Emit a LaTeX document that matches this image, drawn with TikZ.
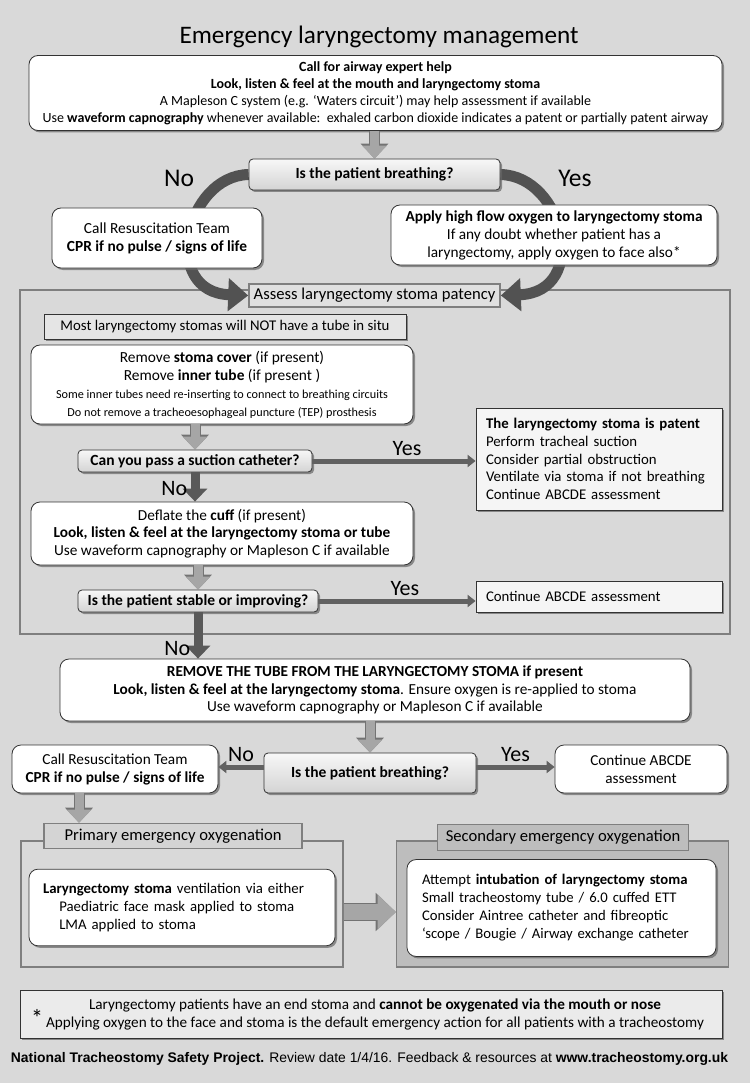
\documentclass[tikz,border=0pt]{standalone}
\usepackage{fontspec}
\setmainfont{Carlito}
\newfontfamily\footfont{Liberation Sans}
\usetikzlibrary{arrows.meta,shadows,positioning}
\definecolor{pagegrey}{HTML}{D9D9D9}
\definecolor{querygrey}{HTML}{EAEAEA}
\definecolor{secgrey}{HTML}{BDBDBD}
\definecolor{edgegrey}{HTML}{7F7F7F}
\pgfdeclarelayer{back}
\pgfdeclarelayer{mid}
\pgfsetlayers{back,mid,main}
\tikzstyle{boxshadow} = [drop shadow={shadow xshift=2pt, shadow yshift=-2pt, fill=black!60, opacity=0.7}]
\tikzstyle{action} = [draw=black!80, fill=white, rounded corners=9pt, align=center, line width=0.8pt, boxshadow]
\tikzstyle{query} = [draw=black!80, top color=black!3, bottom color=black!17, rounded corners=4pt, align=center, line width=0.8pt, font=\fontsize{15.5}{18}\selectfont\bfseries, boxshadow]
\tikzstyle{outcome} = [draw=black!80, fill=black!4, align=left, line width=0.8pt, boxshadow]
\tikzstyle{panel} = [draw=edgegrey, line width=1.6pt]
\tikzstyle{paneltab} = [draw=edgegrey, line width=1.6pt, font=\fontsize{16.6}{18}\selectfont]
\tikzstyle{greyarrow} = [draw=black!35, line width=9pt, -{Triangle[width=24pt,length=13pt]},
  preaction={draw=black!55, line width=11pt, -{Triangle[width=27pt,length=15pt]}}]
\tikzstyle{darkarrow} = [draw=black!65, line width=9pt, -{Triangle[width=24pt,length=13pt]}]
\tikzstyle{sidearrow} = [draw=black!62, line width=5pt, -{Triangle[width=12pt,length=8pt]}]
\tikzstyle{curvearrow} = [draw=black!68, line width=11pt, -{Triangle[width=32pt,length=20pt]}]
\tikzstyle{biglabel} = [font=\fontsize{25.5}{26}\selectfont]
\tikzstyle{midlabel} = [font=\fontsize{22}{22}\selectfont]

\begin{document}
\begin{tikzpicture}[x=1pt, y=-1pt, font=\fontsize{15}{17.5}\selectfont]
    \useasboundingbox (0,0) rectangle (750,1083);
    \begin{pgfonlayer}{back}
      \fill[pagegrey] (0,0) rectangle (750,1083);
      \node [panel, minimum width=710, minimum height=344] (patency) at (375,462) {};
      \node [panel, fill=pagegrey, minimum width=322, minimum height=126] (prim) at (182,904) {};
      \node [panel, fill=secgrey, minimum width=332, minimum height=126] (sec) at (562.5,904) {};
    \end{pgfonlayer}

    \node [font=\fontsize{25.2}{27}\selectfont] (title) at (379,37) {Emergency laryngectomy management};
    \node [action, minimum width=693, minimum height=75, font=\fontsize{14}{17}\selectfont] (top) at (375.5,93)
      {\textbf{Call for airway expert help}\\
       \textbf{Look, listen \& feel at the mouth and laryngectomy stoma}\\
       A Mapleson C system (e.g. ‘Waters circuit’) may help assessment if available\\
       Use \textbf{waveform capnography} whenever available:\ \ exhaled carbon dioxide indicates a patent or partially patent airway};
    \node [query, minimum width=251, minimum height=31] (q1) at (374.5,174.5) {Is the patient breathing?};
    \node [biglabel] (nolabel) at (179,178) {No};
    \node [biglabel] (yeslabel) at (575,178) {Yes};
    \node [action, minimum width=210, minimum height=60, font=\fontsize{15.4}{18}\selectfont] (resus1) at (157,238)
      {Call Resuscitation Team\\\textbf{CPR if no pulse / signs of life}};
    \node [action, minimum width=326, minimum height=60, font=\fontsize{15.3}{18}\selectfont] (oxy) at (554,235)
      {\textbf{Apply high flow oxygen to laryngectomy stoma}\\If any doubt whether patient has a\\laryngectomy, apply oxygen to face also*};
    \node [paneltab, fill=black!12, minimum width=251, minimum height=23] (assess) at (374.5,295.5)
      {Assess laryngectomy stoma patency};

    % stoma patency
    \node [outcome, fill=black!10, minimum width=362, minimum height=25, align=center, font=\fontsize{14.8}{17}\selectfont] (most) at (225,326.5)
      {Most laryngectomy stomas will NOT have a tube in situ};
    \node [action, minimum width=382, minimum height=79, font=\fontsize{15.4}{18}\selectfont] (rmv) at (222,384.5)
      {Remove \textbf{stoma cover} (if present)\\
       Remove \textbf{inner tube} (if present )\\
       {\fontsize{12.2}{16}\selectfont Some inner tubes need re-inserting to connect to breathing circuits}\\
       {\fontsize{12.2}{16}\selectfont Do not remove a tracheoesophageal puncture (TEP) prosthesis}};
    \node [query, minimum width=234, minimum height=22] (can) at (195,461) {Can you pass a suction catheter?};
    \node [outcome, minimum width=246, minimum height=102, text width=226, font=\fontsize{14.8}{17.7}\selectfont] (patent) at (599,459)
      {\textbf{The laryngectomy stoma is patent}\\
       Perform tracheal suction\\
       Consider partial obstruction\\
       Ventilate via stoma if not breathing\\
       Continue ABCDE assessment};
    \node [action, minimum width=382, minimum height=63, font=\fontsize{15.3}{17.5}\selectfont] (deflate) at (222,533.5)
      {Deflate the \textbf{cuff} (if present)\\
       \textbf{Look, listen \& feel at the laryngectomy stoma or tube}\\
       Use waveform capnography or Mapleson C if available};
    \node [query, minimum width=240, minimum height=22] (stable) at (198,601) {Is the patient stable or improving?};
    \node [outcome, minimum width=246, minimum height=31, text width=226, font=\fontsize{14.8}{17}\selectfont] (cont1) at (599,596.5)
      {Continue ABCDE assessment};

    \draw [greyarrow] (top.south -| q1.north) -- (q1.north);
    \draw [greyarrow] (can.north |- rmv.south) -- (can.north);
    \draw [sidearrow] (can.east) -- node[midlabel, above, pos=0.58] {Yes} (can.east -| patent.west);
    \draw [darkarrow] (can.south) -- node[midlabel, left, pos=0.55] {No} (can.south |- deflate.north);
    \draw [greyarrow] (stable.north |- deflate.south) -- (stable.north);
    \draw [sidearrow] (stable.east) -- node[midlabel, above, pos=0.55] {Yes} (stable.east -| cont1.west);

    % tube removal
    \node [action, minimum width=630, minimum height=62, font=\fontsize{15.3}{17.5}\selectfont] (remove) at (375,690)
      {\textbf{REMOVE THE TUBE FROM THE LARYNGECTOMY STOMA if present}\\
       \textbf{Look, listen \& feel at the laryngectomy stoma}. Ensure oxygen is re-applied to stoma\\
       Use waveform capnography or Mapleson C if available};
    \draw [darkarrow] (stable.south) -- node[midlabel, left, pos=0.78] {No} (stable.south |- remove.north);
    \node [query, minimum width=212, minimum height=40] (q3) at (370,773) {Is the patient breathing?};
    \node [action, minimum width=206, minimum height=48, font=\fontsize{15.3}{18}\selectfont] (resus2) at (115,769)
      {Call Resuscitation Team\\\textbf{CPR if no pulse / signs of life}};
    \node [action, minimum width=172, minimum height=48, font=\fontsize{15.2}{18}\selectfont] (cont2) at (641,769)
      {Continue ABCDE\\assessment};
    \draw [greyarrow] (q3.north |- remove.south) -- (q3.north);
    \draw [sidearrow] ([yshift=6pt]q3.west) -- node[midlabel, above] {No} ([yshift=6pt]q3.west -| resus2.east);
    \draw [sidearrow] ([yshift=6pt]q3.east) -- node[midlabel, above] {Yes} ([yshift=6pt]q3.east -| cont2.west);

    % oxygenation
    \node [paneltab, fill=black!17, minimum width=258, minimum height=25] (primtab) at (173,836) {Primary emergency oxygenation};
    \node [paneltab, fill=secgrey, minimum width=251, minimum height=26] (sectab) at (563,837.5) {Secondary emergency oxygenation};
    \node [action, minimum width=306, minimum height=71, text width=278, align=left, inner sep=14pt, font=\fontsize{14.8}{18}\selectfont] (primbox) at (182,907.5)
      {\textbf{Laryngectomy stoma} ventilation via either\\
       \hspace*{1.1em}Paediatric face mask applied to stoma\\
       \hspace*{1.1em}LMA applied to stoma};
    \node [action, minimum width=309, minimum height=90, text width=279, align=left, inner sep=15pt, font=\fontsize{14.7}{18}\selectfont] (secbox) at (561.5,908)
      {Attempt \textbf{intubation of laryngectomy stoma}\\
       Small tracheostomy tube / 6.0 cuffed ETT\\
       Consider Aintree catheter and fibreoptic\\
       ‘scope / Bougie / Airway exchange catheter};
    \draw [greyarrow] ([xshift=-36pt]resus2.south) -- ([xshift=-36pt]resus2.south |- primtab.north);
    \draw [greyarrow, line width=16pt, -{Triangle[width=34pt,length=18pt]},
      preaction={draw=black!55, line width=18pt, -{Triangle[width=37pt,length=20pt]}}] ([yshift=-8pt]prim.east) -- ([yshift=-8pt]sec.west);

    % footnote
    \node [outcome, fill=black!8, minimum width=702, minimum height=48, align=center, font=\fontsize{15.2}{18}\selectfont] (note) at (371,1014)
      {\hspace*{8pt}Laryngectomy patients have an end stoma and \textbf{cannot be oxygenated via the mouth or nose}\\
       \hspace*{8pt}Applying oxygen to the face and stoma is the default emergency action for all patients with a tracheostomy};
    \node [font=\fontsize{24}{24}\selectfont] (star) at (37,1018) {*};
    \node [font=\footfont\fontsize{13.9}{15}\selectfont] (footer) at (369.5,1059)
      {\textbf{National Tracheostomy Safety Project.} Review date 1/4/16. Feedback \& resources at \textbf{www.tracheostomy.org.uk}};

    \begin{pgfonlayer}{mid}
      \draw [curvearrow] (q1.west) .. controls (185,176) and (160,292) .. (assess.west);
      \draw [curvearrow] (q1.east) .. controls (565,176) and (590,292) .. (assess.east);
    \end{pgfonlayer}

  \end{tikzpicture}
\end{document}
